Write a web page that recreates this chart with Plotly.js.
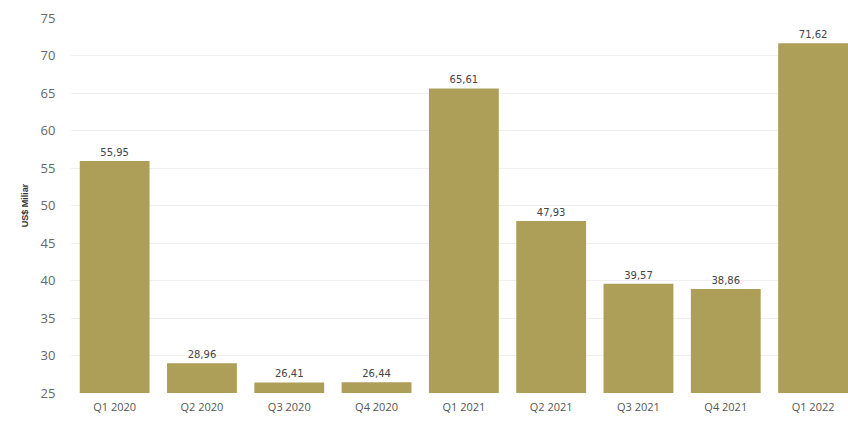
<!DOCTYPE html>
<html><head><meta charset="utf-8">
<script src="https://cdn.plot.ly/plotly-3.0.1.min.js"></script>
<style>html,body{margin:0;padding:0;background:#fff;}#chart{width:848px;height:421px;}</style>
</head><body><div id="chart"></div>
<script>
const categories = ["Q1 2020","Q2 2020","Q3 2020","Q4 2020","Q1 2021","Q2 2021","Q3 2021","Q4 2021","Q1 2022"];
const values = [55.95, 28.96, 26.41, 26.44, 65.61, 47.93, 39.57, 38.86, 71.62];
const yTicks = [25,30,35,40,45,50,55,60,65,70,75];

const trace = {
  type: 'bar', x: categories, y: values,
  marker: {color: '#ae9f58'},
  texttemplate: '%{y:.2f}', textposition: 'outside',
  textfont: {family: 'DejaVu Sans, sans-serif', size: 10, color: '#444'},
  cliponaxis: false, hoverinfo: 'none'
};
const layout = {
  width: 848, height: 421,
  margin: {l: 71, r: 0, t: 18, b: 28},
  paper_bgcolor: '#fff', plot_bgcolor: '#fff',
  separators: ', ',
  bargap: 0.2, showlegend: false,
  xaxis: {type: 'category', range: [-0.5, 8.4], showgrid: false, zeroline: false, showline: false,
          ticks: 'outside', ticklen: 4, tickcolor: 'rgba(0,0,0,0)',
          tickfont: {family: 'Open Sans, sans-serif', size: 11, color: '#555'}},
  yaxis: {range: [25, 75], tickvals: yTicks, showgrid: true, gridcolor: '#efefef', zeroline: false,
          ticks: 'outside', ticklen: 12, tickcolor: 'rgba(0,0,0,0)',
          tickfont: {family: 'Open Sans, sans-serif', size: 13, color: '#666'},
          title: {text: '<b>US$ Miliar</b>', standoff: 10, font: {family: 'Liberation Sans Narrow, Arial Narrow, sans-serif', size: 9, color: '#333'}}}
};
Plotly.newPlot('chart', [trace], layout, {staticPlot: true, displayModeBar: false});
</script></body></html>
